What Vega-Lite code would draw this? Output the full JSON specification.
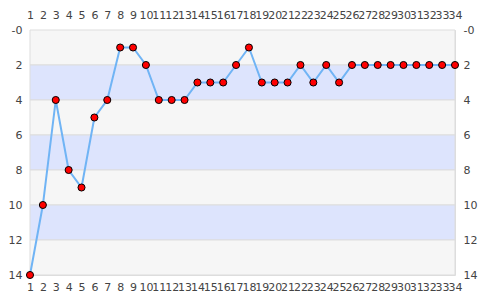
{
  "$schema": "https://vega.github.io/schema/vega-lite/v6.json",
  "width": 425,
  "height": 245,
  "autosize": {"type": "none"},
  "padding": {"left": 30, "top": 30, "right": 30, "bottom": 25},
  "background": "white",
  "config": {
    "font": "DejaVu Sans",
    "view": {"stroke": "#dddddd", "strokeWidth": 1},
    "axis": {"labelFont": "DejaVu Sans", "labelFontSize": 11, "labelColor": "#444444", "ticks": false, "domain": false, "title": null}
  },
  "datasets": {
    "bands": [
      {"lo": 0, "hi": 2, "shade": "light"},
      {"lo": 2, "hi": 4, "shade": "blue"},
      {"lo": 4, "hi": 6, "shade": "light"},
      {"lo": 6, "hi": 8, "shade": "blue"},
      {"lo": 8, "hi": 10, "shade": "light"},
      {"lo": 10, "hi": 12, "shade": "blue"},
      {"lo": 12, "hi": 14, "shade": "light"}
    ],
    "rank": [
      {"round": 1, "pos": 14}, {"round": 2, "pos": 10}, {"round": 3, "pos": 4},
      {"round": 4, "pos": 8}, {"round": 5, "pos": 9}, {"round": 6, "pos": 5},
      {"round": 7, "pos": 4}, {"round": 8, "pos": 1}, {"round": 9, "pos": 1},
      {"round": 10, "pos": 2}, {"round": 11, "pos": 4}, {"round": 12, "pos": 4},
      {"round": 13, "pos": 4}, {"round": 14, "pos": 3}, {"round": 15, "pos": 3},
      {"round": 16, "pos": 3}, {"round": 17, "pos": 2}, {"round": 18, "pos": 1},
      {"round": 19, "pos": 3}, {"round": 20, "pos": 3}, {"round": 21, "pos": 3},
      {"round": 22, "pos": 2}, {"round": 23, "pos": 3}, {"round": 24, "pos": 2},
      {"round": 25, "pos": 3}, {"round": 26, "pos": 2}, {"round": 27, "pos": 2},
      {"round": 28, "pos": 2}, {"round": 29, "pos": 2}, {"round": 30, "pos": 2},
      {"round": 31, "pos": 2}, {"round": 32, "pos": 2}, {"round": 33, "pos": 2},
      {"round": 34, "pos": 2}
    ]
  },
  "layer": [
    {
      "data": {"name": "bands"},
      "mark": {"type": "rect", "stroke": "#dddddd", "strokeWidth": 1},
      "encoding": {
        "x": {"datum": 1, "type": "quantitative", "scale": {"domain": [1, 34], "nice": false, "zero": false}, "axis": null},
        "x2": {"datum": 34},
        "y": {"field": "lo", "type": "quantitative", "scale": {"domain": [0, 14], "reverse": true, "nice": false, "zero": false}, "axis": null},
        "y2": {"field": "hi"},
        "fill": {"field": "shade", "type": "nominal", "scale": {"domain": ["light", "blue"], "range": ["#f6f6f6", "#dde4fd"]}, "legend": null}
      }
    },
    {
      "data": {"name": "rank"},
      "mark": {"type": "line", "color": "#70b4f5", "strokeWidth": 2},
      "encoding": {
        "x": {"field": "round", "type": "quantitative",
          "axis": {"orient": "bottom", "values": [1,2,3,4,5,6,7,8,9,10,11,12,13,14,15,16,17,18,19,20,21,22,23,24,25,26,27,28,29,30,31,32,33,34], "grid": false, "labelOverlap": false, "labelPadding": 6, "labelFlush": false}},
        "y": {"field": "pos", "type": "quantitative",
          "axis": {"orient": "left", "values": [0,2,4,6,8,10,12,14], "grid": false, "labelPadding": 8, "labelExpr": "datum.value == 0 ? '-0' : datum.label"}}
      }
    },
    {
      "data": {"name": "rank"},
      "mark": {"type": "point", "filled": true, "fill": "#ff0000", "stroke": "#000000", "strokeWidth": 1, "size": 50, "opacity": 1},
      "encoding": {
        "x": {"field": "round", "type": "quantitative",
          "axis": {"orient": "top", "values": [1,2,3,4,5,6,7,8,9,10,11,12,13,14,15,16,17,18,19,20,21,22,23,24,25,26,27,28,29,30,31,32,33,34], "grid": false, "labelOverlap": false, "labelPadding": 10, "labelFlush": false}},
        "y": {"field": "pos", "type": "quantitative",
          "axis": {"orient": "right", "values": [0,2,4,6,8,10,12,14], "grid": false, "labelPadding": 8, "labelExpr": "datum.value == 0 ? '-0' : datum.label"}}
      }
    }
  ],
  "resolve": {"axis": {"x": "independent", "y": "independent"}}
}
